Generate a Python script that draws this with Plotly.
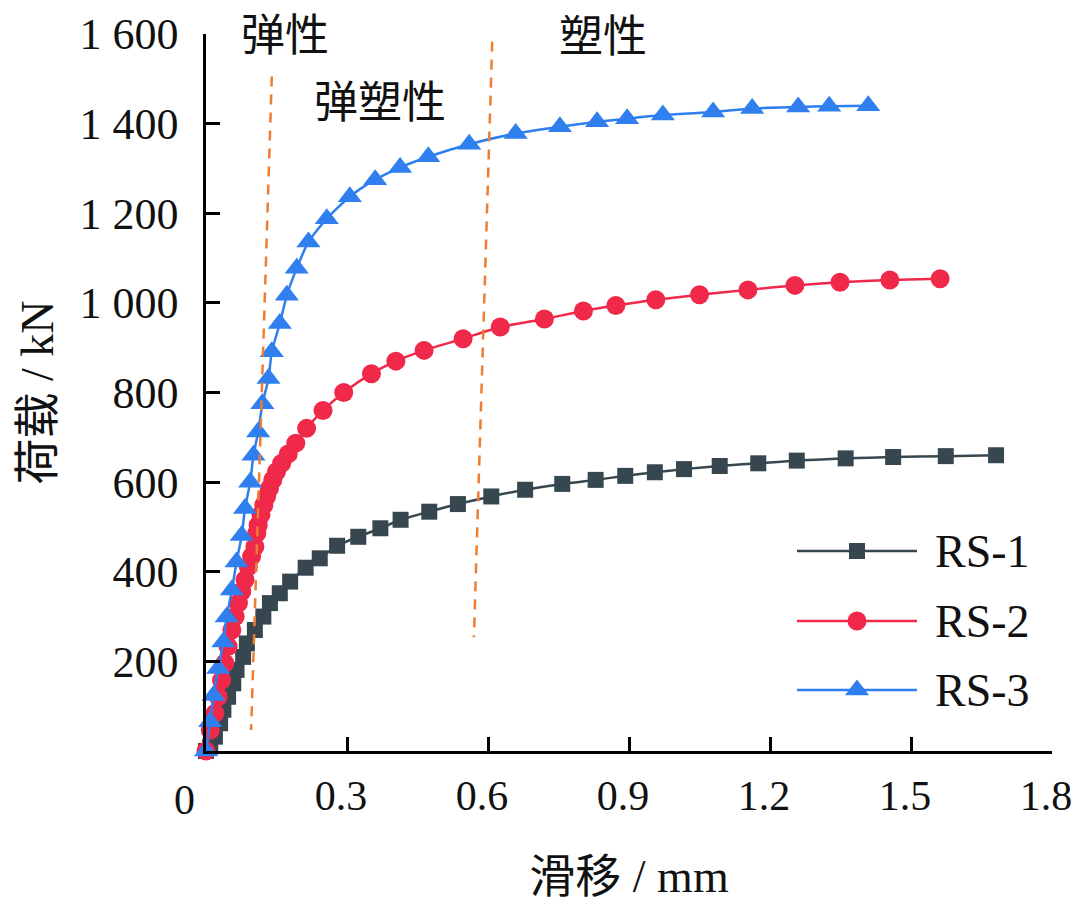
import plotly.graph_objects as go

# ---------------- data ----------------
rs1_x = [0, 0.009, 0.019, 0.030, 0.037, 0.047, 0.058, 0.065, 0.079, 0.087, 0.104, 0.122, 0.136,
         0.157, 0.179, 0.212, 0.242, 0.279, 0.324, 0.371, 0.414, 0.475, 0.536, 0.607, 0.679, 0.758,
         0.829, 0.892, 0.955, 1.017, 1.093, 1.175, 1.257, 1.361, 1.462, 1.574, 1.681]
rs1_y = [0, 10, 32, 62, 92, 121, 151, 181, 210, 240, 270, 300, 330,
         352, 378, 409, 430, 458, 478, 497, 516, 534, 551, 568, 583, 596,
         605, 614, 622, 629, 636, 642, 648, 653, 656, 658, 660]

rs2_x = [0, 0.009, 0.019, 0.026, 0.033, 0.040, 0.047, 0.055, 0.062, 0.069, 0.076, 0.083, 0.090,
         0.097, 0.104, 0.108, 0.111, 0.117, 0.123, 0.129, 0.135, 0.142, 0.150, 0.161, 0.175, 0.191,
         0.214, 0.249, 0.293, 0.352, 0.404, 0.464, 0.547, 0.626, 0.720, 0.803, 0.872, 0.957, 1.050,
         1.153, 1.253, 1.349, 1.455, 1.562]
rs2_y = [0, 47, 84, 121, 158, 196, 233, 270, 300, 330, 356, 382, 411,
         434, 456, 486, 504, 527, 549, 568, 586, 605, 623, 642, 663, 687,
         720, 760, 800, 842, 870, 894, 920, 946, 964, 982, 994, 1007, 1018,
         1029, 1039, 1046, 1051, 1054]

rs3_x = [0, 0.009, 0.016, 0.026, 0.037, 0.044, 0.055, 0.065, 0.076, 0.083, 0.094, 0.101, 0.111,
         0.120, 0.133, 0.140, 0.157, 0.172, 0.193, 0.218, 0.257, 0.306, 0.360, 0.413, 0.473, 0.560,
         0.659, 0.753, 0.832, 0.896, 0.972, 1.079, 1.162, 1.260, 1.326, 1.409]
rs3_y = [0, 65, 124, 184, 243, 299, 359, 422, 481, 541, 600, 660, 712,
         775, 831, 891, 954, 1017, 1077, 1136, 1188, 1237, 1275, 1302, 1326, 1354,
         1378, 1393, 1404, 1411, 1419, 1426, 1434, 1437, 1439, 1440]

series_names = ["RS-1", "RS-2", "RS-3"]

# stage boundary lines (x0, y0, x1, y1)
boundary_left = [0.140, 1505, 0.096, 47]
boundary_right = [0.609, 1583, 0.570, 254]

stage_labels = ["弹性", "弹塑性", "塑性"]
stage_label_x = [0.168, 0.370, 0.845]
stage_label_y = [1600, 1446, 1600]

x_ticks = [0, 0.3, 0.6, 0.9, 1.2, 1.5, 1.8]
x_ticktext = ["", "0.3", "0.6", "0.9", "1.2", "1.5", "1.8"]
y_ticks = [200, 400, 600, 800, 1000, 1200, 1400, 1600]
y_ticktext = ["200", "400", "600", "800", "1 000", "1 200", "1 400", "1 600"]

# ---------------- styles ----------------
colors = ["#37474F", "#F0284A", "#2F7FEE"]
symbols = ["square", "circle", "triangle-up"]
msizes = [16, 19, 21]
dash_color = "#ED7D31"
SERIF = "Liberation Serif, Times New Roman, Noto Sans CJK SC"
CJK = "Noto Sans CJK SC"

ML, MR, MT, MB = 206, 28, 34, 163
W, H = 1080, 914
L = W - ML - MR
T = H - MT - MB

def px_to_paper(px, py):
    return (px - ML) / L, (H - MB - py) / T

fig = go.Figure()
for xs, ys, name, c, s, ms in zip([rs1_x, rs2_x, rs3_x], [rs1_y, rs2_y, rs3_y],
                                  series_names, colors, symbols, msizes):
    fig.add_trace(go.Scatter(
        x=xs, y=ys, name=name, mode="lines+markers",
        line=dict(color=c, width=2.5, shape="spline", smoothing=0.6),
        marker=dict(symbol=s, size=ms, color=c, line=dict(width=0)),
        cliponaxis=False, showlegend=False,
    ))

# boundary dashed lines
for b in (boundary_left, boundary_right):
    fig.add_shape(type="line", xref="x", yref="y", x0=b[0], y0=b[1], x1=b[2], y1=b[3],
                  line=dict(color=dash_color, width=2.5, dash="10px,8px"))

# stage labels
stage_shift = [2, 4, 1]
for t, lx, ly, sh in zip(stage_labels, stage_label_x, stage_label_y, stage_shift):
    fig.add_annotation(x=lx, y=ly, xref="x", yref="y", yshift=sh, text=t, showarrow=False,
                       xanchor="center", yanchor="middle",
                       font=dict(family=CJK, size=44, color="#111111"))

# custom legend (paper coordinates)
legend_rows_y = [551, 621, 690]
for name, c, s, ms, py in zip(series_names, colors, symbols, msizes, legend_rows_y):
    x0, yy = px_to_paper(797, py)
    x1, _ = px_to_paper(917, py)
    fig.add_shape(type="line", xref="paper", yref="paper", x0=x0, x1=x1, y0=yy, y1=yy,
                  line=dict(color=c, width=2.5))
    xm, _ = px_to_paper(857, py)
    fig.add_trace(go.Scatter(x=[xm], y=[yy], xaxis="x2", yaxis="y2", mode="markers",
                             marker=dict(symbol=s, size=ms, color=c), showlegend=False,
                             hoverinfo="skip", cliponaxis=False))
    xt, _ = px_to_paper(933, py)
    fig.add_annotation(x=xt, y=yy, xref="paper", yref="paper", text=name, showarrow=False,
                       xanchor="left", yanchor="middle",
                       font=dict(family=SERIF, size=46, color="#111111"))

# x "0" origin label
ox, oy = px_to_paper(184, 800)
fig.add_annotation(x=ox, y=oy, xref="paper", yref="paper", text="0",
                   xanchor="center", yanchor="middle",
                   showarrow=False, font=dict(family=SERIF, size=42, color="#111111"))

fig.update_layout(
    width=W, height=H,
    margin=dict(l=ML, r=MR, t=MT, b=MB, autoexpand=False),
    paper_bgcolor="white", plot_bgcolor="white",
    font=dict(family=SERIF, color="#111111"),
    xaxis=dict(range=[0, 1.8], tickvals=x_ticks, ticktext=x_ticktext, automargin=False,
               showline=True, linecolor="black", linewidth=2.5, mirror=False,
               ticks="inside", ticklen=14, tickwidth=2.5, tickcolor="black",
               showgrid=False, zeroline=False,
               tickfont=dict(family=SERIF, size=42, color="#111111"),
               ticklabelstandoff=6, ticklabelshift=-6,
               title=dict(text="滑移 / mm", font=dict(family=SERIF, size=46, color="#111111"),
                          standoff=42)),
    yaxis=dict(range=[0, 1600], tickvals=y_ticks, ticktext=y_ticktext, automargin=False,
               showline=True, linecolor="black", linewidth=2.5, mirror=False,
               ticks="inside", ticklen=14, tickwidth=2.5, tickcolor="black",
               showgrid=False, zeroline=False,
               tickfont=dict(family=SERIF, size=44, color="#111111"),
               ticklabelstandoff=16,
               title=dict(text="荷载 / kN", font=dict(family=SERIF, size=46, color="#111111"),
                          standoff=12)),
    xaxis2=dict(range=[0, 1], overlaying="x", visible=False, anchor="y2"),
    yaxis2=dict(range=[0, 1], overlaying="y", visible=False, anchor="x2"),
    showlegend=False,
)

fig.write_html("out.html", config={"displayModeBar": False},
               post_script="document.body.style.margin='0';document.body.style.overflow='hidden';")
